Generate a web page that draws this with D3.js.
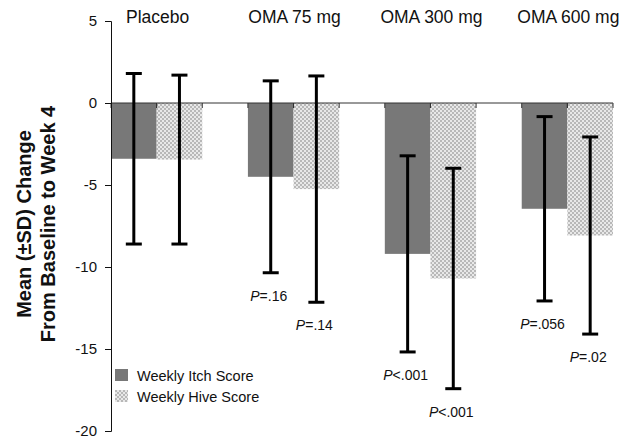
<!DOCTYPE html>
<html>
<head>
<meta charset="utf-8">
<script src="https://cdn.jsdelivr.net/npm/d3@7"></script>
<style>
  body { margin: 0; background: #fff; }
  svg text { font-family: Arial, "Liberation Sans", sans-serif; fill: #111; }
</style>
</head>
<body>
<div id="chart"></div>
<script>
// data
var groups = ["Placebo", "OMA 75 mg", "OMA 300 mg", "OMA 600 mg"];
var seriesNames = ["Weekly Itch Score", "Weekly Hive Score"];
var itchMean = [-3.4, -4.5, -9.2, -6.45];
var itchSD = [5.2, 5.85, 5.98, 5.62];
var hiveMean = [-3.45, -5.25, -10.7, -8.08];
var hiveSD = [5.15, 6.9, 6.72, 6.01];
var itchP = [null, "=.16", "<.001", "=.056"];
var hiveP = [null, "=.14", "<.001", "=.02"];
var yTicks = [5, 0, -5, -10, -15, -20];

var svgWidth = 633;
var svgHeight = 439;

var svg = d3.select("#chart")
  .append("svg")
  .attr("width", svgWidth)
  .attr("height", svgHeight);

// checkered fill for hive bars
var defs = svg.append("defs");
var pat = defs.append("pattern")
  .attr("id", "checks")
  .attr("width", 4)
  .attr("height", 4)
  .attr("patternUnits", "userSpaceOnUse");
pat.append("rect").attr("width", 4).attr("height", 4).attr("fill", "#e8e8e8");
pat.append("rect").attr("width", 2).attr("height", 2).attr("fill", "#b8b8b8");
pat.append("rect").attr("x", 2).attr("y", 2).attr("width", 2).attr("height", 2).attr("fill", "#b8b8b8");

var colors = ["#787878", "url(#checks)"];

// scales
var y = d3.scaleLinear()
  .domain([-20, 5])
  .range([431, 21]);

var x0 = d3.scaleBand()
  .domain(groups)
  .range([111, 613])
  .paddingInner(1 / 3)
  .paddingOuter(0);

var x1 = d3.scaleBand()
  .domain(seriesNames)
  .range([0, x0.bandwidth()])
  .padding(0);

var rows = [];
groups.forEach(function (g, i) {
  rows.push({ group: g, series: seriesNames[0], mean: itchMean[i], sd: itchSD[i], p: itchP[i], color: colors[0] });
  rows.push({ group: g, series: seriesNames[1], mean: hiveMean[i], sd: hiveSD[i], p: hiveP[i], color: colors[1] });
});

// bars
svg.append("g")
  .selectAll("rect")
  .data(rows)
  .enter()
  .append("rect")
  .attr("x", d => x0(d.group) + x1(d.series))
  .attr("y", y(0))
  .attr("width", x1.bandwidth())
  .attr("height", d => y(d.mean) - y(0))
  .attr("fill", d => d.color);

// zero line with ticks at bar edges
svg.append("line")
  .attr("x1", x0.range()[0])
  .attr("x2", x0.range()[1])
  .attr("y1", y(0))
  .attr("y2", y(0))
  .attr("stroke", "#333")
  .attr("stroke-width", 1);

var edges = [];
rows.forEach(function (d) {
  var left = x0(d.group) + x1(d.series);
  edges.push(left, left + x1.bandwidth());
});
svg.append("g")
  .selectAll("line")
  .data(edges)
  .enter()
  .append("line")
  .attr("x1", d => d)
  .attr("x2", d => d)
  .attr("y1", y(0))
  .attr("y2", y(0) + 5)
  .attr("stroke", "#333")
  .attr("stroke-width", 1);

// y axis
var leftAxis = d3.axisLeft(y)
  .tickValues(yTicks)
  .tickSize(6)
  .tickPadding(8)
  .tickFormat(d3.format("d"));

var yAxis = svg.append("g")
  .attr("transform", "translate(111,0)")
  .call(leftAxis);
yAxis.select(".domain").attr("stroke", "#111");
yAxis.selectAll(".tick line").attr("stroke", "#111");
yAxis.selectAll(".tick text")
  .style("font-size", "15px")
  .text(d => d < 0 ? "-" + Math.abs(d) : d);

// error bars
var capHalf = 8;
var err = svg.append("g")
  .attr("stroke", "#000")
  .attr("stroke-width", 3);
rows.forEach(function (d) {
  var cx = x0(d.group) + x1(d.series) + x1.bandwidth() / 2;
  var top = y(d.mean + d.sd);
  var bot = y(d.mean - d.sd);
  err.append("line").attr("x1", cx).attr("x2", cx).attr("y1", top).attr("y2", bot);
  err.append("line").attr("x1", cx - capHalf).attr("x2", cx + capHalf).attr("y1", top).attr("y2", top);
  err.append("line").attr("x1", cx - capHalf).attr("x2", cx + capHalf).attr("y1", bot).attr("y2", bot);
});

// P values under the error bars
var pText = svg.append("g")
  .selectAll("text")
  .data(rows.filter(d => d.p))
  .enter()
  .append("text")
  .attr("x", d => x0(d.group) + x1(d.series) + x1.bandwidth() / 2 - 2)
  .attr("y", d => y(d.mean - d.sd) + 28)
  .attr("text-anchor", "middle")
  .style("font-size", "14px");
pText.append("tspan").style("font-style", "italic").text("P");
pText.append("tspan").text(d => d.p);

// group labels
svg.append("g")
  .selectAll("text")
  .data(groups)
  .enter()
  .append("text")
  .attr("x", d => x0(d) + x0.bandwidth() / 2 + 1)
  .attr("y", 23)
  .attr("text-anchor", "middle")
  .style("font-size", "17.5px")
  .text(d => d);

// y title
var yTitle = svg.append("text")
  .attr("transform", "translate(24,224) rotate(-90)")
  .attr("text-anchor", "middle")
  .style("font-size", "20px")
  .style("font-weight", "bold");
yTitle.append("tspan").attr("x", 0).attr("dy", "0.35em").text("Mean (\u00B1SD) Change");
yTitle.append("tspan").attr("x", 0).attr("dy", "1.2em").text("From Baseline to Week 4");

// legend
var legend = svg.append("g")
  .attr("transform", "translate(115,369)");
seriesNames.forEach(function (name, i) {
  var row = legend.append("g").attr("transform", "translate(0," + (i * 21) + ")");
  row.append("rect")
    .attr("width", 13)
    .attr("height", 12)
    .attr("fill", colors[i]);
  row.append("text")
    .attr("x", 22)
    .attr("y", 12)
    .style("font-size", "14.5px")
    .text(name);
});
</script>
</body>
</html>
